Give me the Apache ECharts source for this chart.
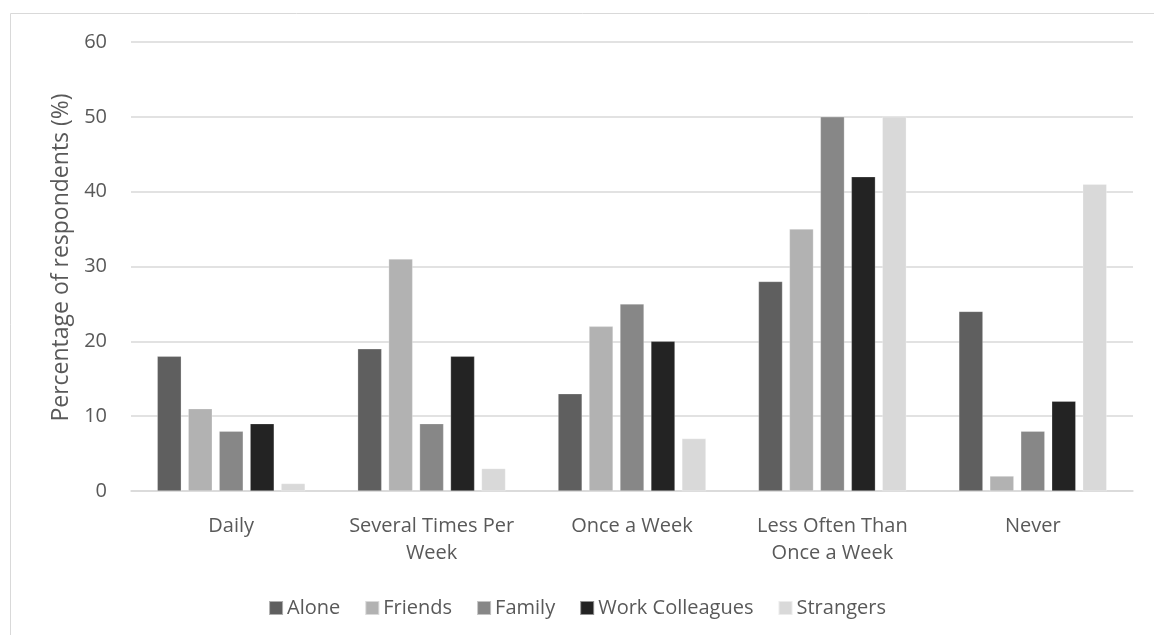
<!DOCTYPE html>
<html>
<head>
<meta charset="utf-8">
<script src="https://cdn.jsdelivr.net/npm/echarts@6/dist/echarts.min.js"></script>
<style>
  html, body { margin: 0; padding: 0; background: #fff; }
  #chart { width: 1154px; height: 635px; }
</style>
</head>
<body>
<div id="chart"></div>
<script>
// Frequency categories and respondent shares per company type
const categories = ['Daily', 'Several Times Per\nWeek', 'Once a Week', 'Less Often Than\nOnce a Week', 'Never'];
const seriesNames = ['Alone', 'Friends', 'Family', 'Work Colleagues', 'Strangers'];
const alone = [18, 19, 13, 28, 24];
const friends = [11, 31, 22, 35, 2];
const family = [8, 9, 25, 50, 8];
const workColleagues = [9, 18, 20, 42, 12];
const strangers = [1, 3, 7, 50, 41];
const yTicks = [0, 10, 20, 30, 40, 50, 60];

const values = [alone, friends, family, workColleagues, strangers];
const colors = ['#5f5f5f', '#b2b2b2', '#878787', '#232323', '#d9d9d9'];
const textColor = '#595959';
const font = 'Open Sans, Liberation Sans, sans-serif';

const chart = echarts.init(document.getElementById('chart'));
chart.setOption({
  animation: false,
  graphic: [{
    type: 'rect',
    shape: { x: 10.5, y: 13.5, width: 1160, height: 640 },
    style: { fill: 'none', stroke: '#d9d9d9', lineWidth: 1 },
    silent: true
  }],
  grid: { left: 131, right: 21, top: 42, bottom: 144, containLabel: false },
  legend: {
    top: 593,
    left: 'center',
    itemWidth: 14,
    itemHeight: 14,
    itemGap: 24,
    icon: 'rect',
    textStyle: { color: textColor, fontSize: 20, fontFamily: font, padding: [0, 0, 0, -1] },
    data: seriesNames
  },
  xAxis: {
    type: 'category',
    data: categories,
    axisLine: { lineStyle: { color: '#d9d9d9', width: 1.5 } },
    axisTick: { show: false },
    axisLabel: { color: textColor, fontSize: 20, fontFamily: font, margin: 22, lineHeight: 27, interval: 0 }
  },
  yAxis: {
    type: 'value',
    min: yTicks[0],
    max: yTicks[yTicks.length - 1],
    interval: 10,
    name: 'Percentage of respondents (%)',
    nameLocation: 'middle',
    nameGap: 56,
    nameTextStyle: { color: textColor, fontSize: 23, fontFamily: font, padding: [0, 0, 0, 18] },
    axisLine: { show: false },
    axisTick: { show: false },
    axisLabel: { color: textColor, fontSize: 20, fontFamily: font, margin: 24 },
    splitLine: { lineStyle: { color: '#d9d9d9', width: 1.5 } }
  },
  series: seriesNames.map((name, i) => ({
    name: name,
    type: 'bar',
    data: values[i],
    barWidth: 24,
    barGap: '29%',
    itemStyle: { color: colors[i], borderColor: 'rgba(255,255,255,0.5)', borderWidth: 0.5 }
  }))
});
</script>
</body>
</html>
